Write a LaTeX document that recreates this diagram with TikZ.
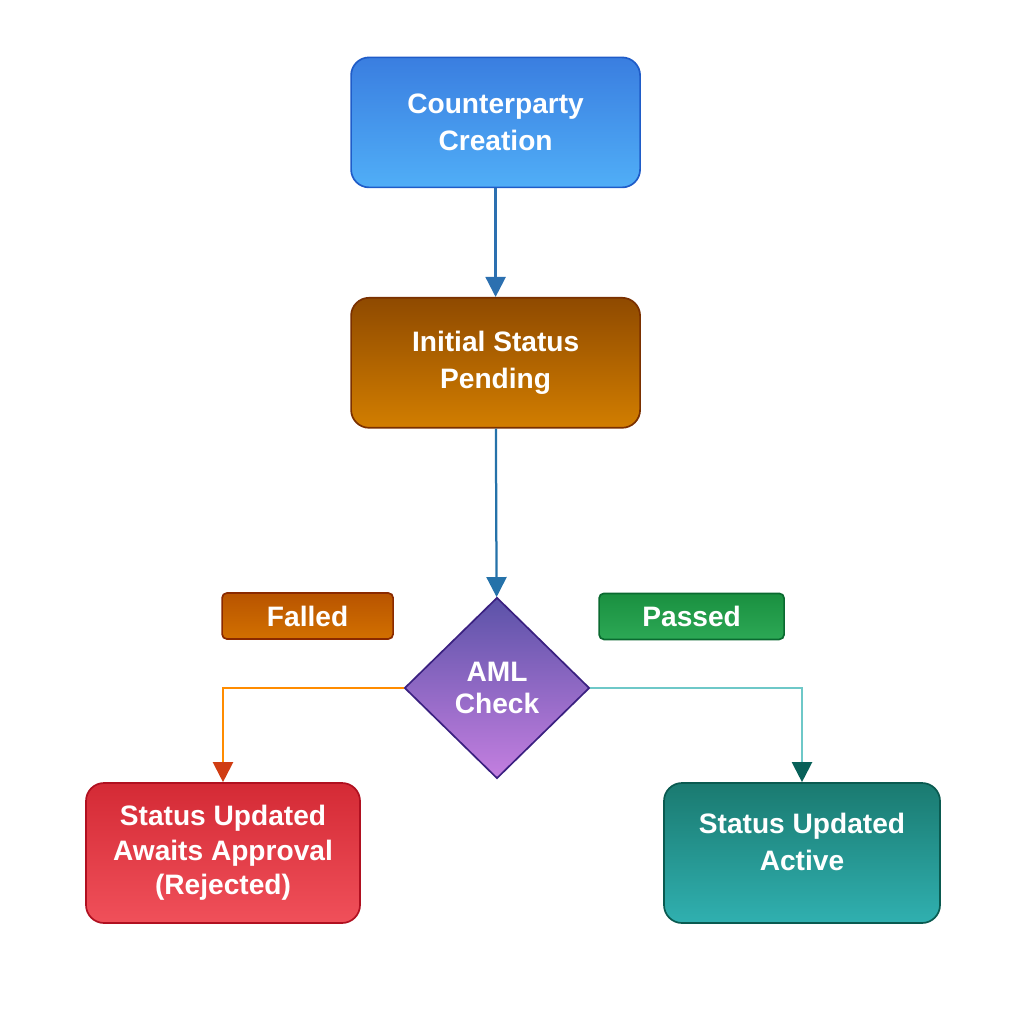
\documentclass[tikz,border=0pt]{standalone}
\usepackage{fontspec}
\setmainfont{Liberation Sans}
\usetikzlibrary{shapes.geometric,arrows.meta}

\definecolor{bleuH}{HTML}{3A7EE0}
\definecolor{bleuB}{HTML}{50AEF7}
\definecolor{bleuT}{HTML}{1F5CC8}
\definecolor{orH}{HTML}{8F4A00}
\definecolor{orB}{HTML}{D27E00}
\definecolor{orT}{HTML}{7A3000}
\definecolor{violH}{HTML}{5B52A8}
\definecolor{violB}{HTML}{C47FE0}
\definecolor{violT}{HTML}{3A2080}
\definecolor{echecH}{HTML}{B85400}
\definecolor{echecB}{HTML}{D27000}
\definecolor{echecT}{HTML}{8A2A00}
\definecolor{okH}{HTML}{1A9040}
\definecolor{okB}{HTML}{2CA855}
\definecolor{okT}{HTML}{0A6A30}
\definecolor{rougeH}{HTML}{D42A35}
\definecolor{rougeB}{HTML}{F0505A}
\definecolor{rougeT}{HTML}{B01020}
\definecolor{vertH}{HTML}{1A7A70}
\definecolor{vertB}{HTML}{30B0B0}
\definecolor{vertT}{HTML}{0A5A50}
\definecolor{fleche}{HTML}{2C70B0}

\begin{document}
\begin{tikzpicture}

    % Styles des noeuds
    \tikzstyle{etape} = [rectangle, rounded corners=0.45cm, minimum width=7.225cm, minimum height=3.25cm, align=center, text=white, font=\fontsize{20}{26}\selectfont\bfseries, line width=1.2pt]
    \tikzstyle{decision} = [diamond, minimum width=4.625cm, minimum height=4.525cm, inner sep=0pt, align=center, text=white, font=\fontsize{20}{22.5}\selectfont\bfseries, line width=1.2pt]
    \tikzstyle{etiquette} = [rectangle, rounded corners=0.12cm, minimum height=1.15cm, text=white, font=\fontsize{20}{24}\selectfont\bfseries, line width=1.2pt]
    \tikzstyle{arrow} = [line width=1.6pt, -{Triangle[width=0.5cm, length=0.5cm]}]

    \useasboundingbox (0,0) rectangle (25.6,-25.6);

    % Noeuds
    \node (creation) [etape, top color=bleuH, bottom color=bleuB, draw=bleuT] at (12.39,-3.06) {Counterparty\\Creation};
    \node (pending) [etape, top color=orH, bottom color=orB, draw=orT] at (12.39,-9.07) {Initial Status\\Pending};
    \node (aml) [decision, top color=violH, bottom color=violB, draw=violT] at (12.425,-17.2) {AML\\Check};
    \node (failed) [etiquette, minimum width=4.275cm, top color=echecH, bottom color=echecB, draw=echecT] at (7.69,-15.4) {Falled};
    \node (passed) [etiquette, minimum width=4.625cm, top color=okH, bottom color=okB, draw=okT] at (17.29,-15.41) {Passed};
    \node (rejected) [etape, minimum width=6.85cm, minimum height=3.5cm, font=\fontsize{20}{24.5}\selectfont\bfseries, top color=rougeH, bottom color=rougeB, draw=rougeT] at (5.575,-21.325) {Status Updated\\Awaits Approval\\(Rejected)};
    \node (active) [etape, minimum width=6.9cm, minimum height=3.5cm, text depth=0.55cm, top color=vertH, bottom color=vertB, draw=vertT] at (20.05,-21.325) {Status Updated\\Active};

    % Flèches
    \draw [arrow, color=fleche] (creation) -- (pending);
    \draw [arrow, color=fleche!85!teal] (pending) -- (aml);
    \draw [arrow, color=orange!90!yellow, -{Triangle[width=0.5cm, length=0.5cm, color=rougeT!60!orange]}] (aml.west) -| (rejected.north);
    \draw [arrow, color=vertB!70!white, -{Triangle[width=0.5cm, length=0.5cm, color=vertT!80!teal]}] (aml.east) -| (active.north);

\end{tikzpicture}
\end{document}
